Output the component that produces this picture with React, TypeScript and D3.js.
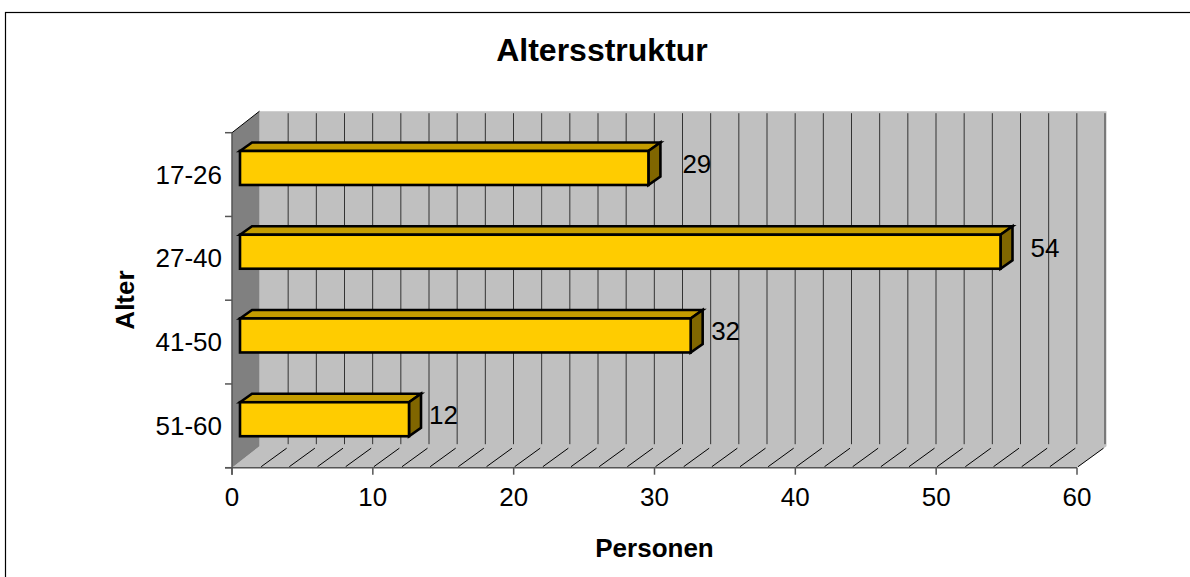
import React from "react";
import * as d3 from "d3";

const categories = ["17-26", "27-40", "41-50", "51-60"];
const values = [29, 54, 32, 12];
const xTicks = [0, 10, 20, 30, 40, 50, 60];
const gridTicks = d3.range(2, 62, 2);
const labelShift = [22, 18, 8.5, 8];
const labelBase = [173, 256.5, 340, 424];

const W = 1190, H = 577;
const FONT = "'Liberation Sans', Arial, sans-serif";
const x = d3.scaleLinear().domain([0, 60]).range([232, 1077]);
const y = d3.scaleBand<string>().domain(categories).range([132.7, 467.7]);
const DX = 27.5, DY = 21.5;
const BDX = 12, BDY = 8.5;

export default function App() {
  const bottom = y.range()[1], top = y.range()[0];
  const x0 = x(0);
  const barInset = 8;
  const barLen = (v: number) => x(v) - x(0);
  const poly = (p: number[][]) => p.map(q => q.join(",")).join(" ");
  return (
    <svg width={W} height={H} style={{ position: "fixed", left: 0, top: 0, background: "#fff" }} fontFamily={FONT}>
      <rect x={5.5} y={12.5} width={1300} height={700} fill="#fff" stroke="#000" strokeWidth={1.2} />
      {/* walls */}
      <polygon points={poly([[x(0) + DX, top - DY], [x(60) + DX + 2, top - DY], [x(60) + DX + 2, bottom - DY], [x(60), bottom], [x0, bottom], [x0 + DX, bottom - DY]])} fill="#C0C0C0" />
      <polygon points={poly([[x0, top], [x0 + DX, top - DY], [x0 + DX, bottom - DY], [x0, bottom]])} fill="#808080" />
      <line x1={x0} y1={top} x2={x0 + DX} y2={top - DY} stroke="#000" />
      {gridTicks.map(t => (
        <g key={t} stroke="#000" strokeWidth={1}>
          <line x1={x(t) + DX + 0.5} y1={top - DY + 2} x2={x(t) + DX + 0.5} y2={bottom - DY - 2} stroke="#333" />
          <line x1={x(t) + 1} y1={bottom - 1} x2={x(t) + DX - 1} y2={bottom - DY + 2} />
        </g>
      ))}
      {/* axes */}
      <line x1={x0} x2={x0} y1={top} y2={bottom + 7} stroke="#555" strokeWidth={1.5} />
      <line x1={x0 - 7} x2={x(60)} y1={bottom} y2={bottom} stroke="#555" strokeWidth={1.5} />
      {[...categories.map(c => y(c)!), bottom].map(v => (
        <line key={v} x1={x0 - 7} x2={x0} y1={v} y2={v} stroke="#555" strokeWidth={1.5} />
      ))}
      {xTicks.map(t => (
        <g key={t}>
          <line x1={x(t)} x2={x(t)} y1={bottom} y2={bottom + 7} stroke="#555" strokeWidth={1.5} />
          <text x={x(t)} y={506} textAnchor="middle" fontSize={26}>{t}</text>
        </g>
      ))}
      {categories.map((c, i) => {
        const h = 34;
        const center = y(c)! + y.bandwidth() / 2;
        const yF = center - h / 2 - 6.6;
        const xL = x0 + barInset;
        const xR = xL + barLen(values[i]);
        return (
          <g key={c} stroke="#000" strokeWidth={2.6} strokeLinejoin="miter">
            <polygon points={poly([[xL, yF], [xL + BDX, yF - BDY], [xR + BDX, yF - BDY], [xR, yF]])} fill="#C49C00" />
            <polygon points={poly([[xR, yF], [xR + BDX, yF - BDY], [xR + BDX, yF + h - BDY], [xR, yF + h]])} fill="#806600" />
            <rect x={xL} y={yF} width={xR - xL} height={h} fill="#FFCC00" />
            <text x={xR + BDX + labelShift[i]} y={labelBase[i]} fontSize={26} stroke="none" fill="#000">{values[i]}</text>
            <text x={222} y={center + 9} textAnchor="end" fontSize={26} stroke="none" fill="#000">{c}</text>
          </g>
        );
      })}
      <text x={602} y={61} textAnchor="middle" fontSize={32} fontWeight="bold">Altersstruktur</text>
      <text x={654.5} y={557} textAnchor="middle" fontSize={26} fontWeight="bold">Personen</text>
      <text transform="translate(134,300) rotate(-90)" textAnchor="middle" fontSize={26} fontWeight="bold">Alter</text>
    </svg>
  );
}
